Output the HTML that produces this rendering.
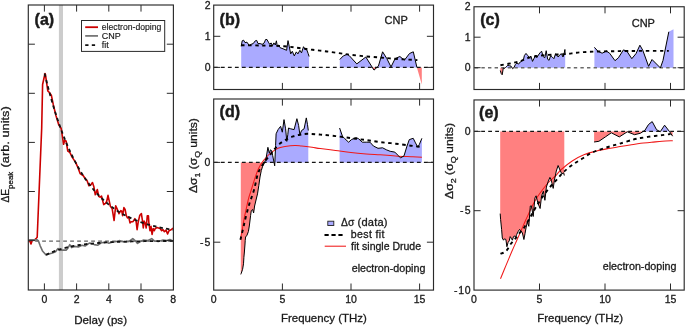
<!DOCTYPE html>
<html><head><meta charset="utf-8"><style>
html,body{margin:0;padding:0;background:#fff;overflow:hidden;}
svg{display:block;will-change:transform;font-family:"Liberation Sans",sans-serif;}
text{stroke:#1a1a1a;stroke-width:0.3px;stroke-linejoin:round;}
</style></head><body>
<svg width="685" height="327" viewBox="0 0 685 327">
<rect width="685" height="327" fill="#fff"/>
<rect x="58.9" y="5.0" width="4.1" height="285.0" fill="#cccccc"/>
<line x1="28.3" y1="241.1" x2="173.4" y2="241.1" stroke="#626262" stroke-width="1.4" stroke-dasharray="3.8 3.2" stroke-dashoffset="0.15"/>
<polyline points="28.5,240.9 29.5,240.3 31.0,244.0 32.3,240.3 34.7,239.9 36.3,238.2 37.2,237.2 41.7,128.0 42.6,84.5 45.0,73.5 45.4,74.4 47.8,90.9 49.6,92.8 51.4,95.5 53.3,104.7 56.0,115.7 58.8,124.9 61.2,128.5 63.6,144.3 64.6,140.6 66.1,141.0 67.8,151.0 69.7,152.2 72.1,157.1 75.8,162.6 78.2,168.2 80.1,173.6 83.1,175.5 85.6,179.2 86.9,180.3 88.9,185.6 90.7,184.9 92.5,182.6 93.8,186.4 95.3,194.8 97.3,189.5 98.7,196.3 100.0,197.2 101.5,196.0 102.7,200.9 103.7,204.6 105.5,203.3 106.7,201.5 108.0,195.4 109.2,200.9 110.4,206.4 112.2,208.9 114.1,220.5 115.7,205.8 117.1,208.9 119.0,213.7 120.8,210.7 121.8,211.3 122.6,215.6 123.9,207.6 125.1,209.5 126.3,215.6 127.5,218.0 128.7,216.8 130.0,222.9 131.2,221.7 133.0,221.7 134.9,218.6 136.1,221.5 137.1,229.6 138.2,222.1 139.8,215.2 141.4,213.6 142.5,221.0 143.3,228.0 144.1,221.0 145.2,223.2 146.2,228.0 147.3,215.7 148.4,215.7 148.9,223.2 150.0,230.7 151.0,226.4 152.1,234.4 153.2,228.5 154.3,230.7 155.3,228.5 156.9,227.5 158.5,228.0 160.1,228.5 161.7,230.7 163.0,229.6 164.4,231.7 166.0,230.1 167.6,233.9 169.0,230.7 170.5,230.1 171.9,229.1 173.0,228.0" fill="none" stroke="#cc0000" stroke-width="1.6" stroke-linejoin="round"/>
<polyline points="28.5,240.3 30.4,239.7 32.9,239.9 37.2,239.9 38.4,240.9 40.2,245.8 42.7,251.3 46.1,255.0 48.8,254.1 52.5,252.9 55.5,251.7 58.0,248.5 59.8,250.1 62.9,250.1 66.1,250.1 67.9,248.2 69.8,244.6 71.6,247.6 74.7,246.4 78.3,247.0 82.0,245.2 85.1,246.0 89.3,243.1 94.2,244.6 97.9,245.2 101.6,242.7 106.5,242.1 108.9,243.3 112.6,242.1 116.2,241.5 119.9,240.6 121.4,241.5 125.2,242.0 129.0,241.5 132.8,238.6 135.6,241.0 137.5,243.4 140.4,241.5 143.2,240.1 148.0,240.5 151.7,238.6 154.6,241.0 158.4,241.5 163.1,240.1 166.9,240.5 169.8,239.6 173.0,241.0" fill="none" stroke="#6e6e6e" stroke-width="1.6" stroke-linejoin="round"/>
<path d="M46.00,254.80 C46.67,254.49 48.67,253.52 50.00,252.94 C51.33,252.36 52.67,251.82 54.00,251.32 C55.33,250.82 56.67,250.36 58.00,249.92 C59.33,249.48 60.67,249.08 62.00,248.71 C63.33,248.33 64.67,247.98 66.00,247.65 C67.33,247.33 68.67,247.03 70.00,246.74 C71.33,246.46 72.67,246.20 74.00,245.95 C75.33,245.70 76.67,245.48 78.00,245.26 C79.33,245.05 80.67,244.86 82.00,244.67 C83.33,244.49 84.67,244.32 86.00,244.16 C87.33,243.99 88.67,243.85 90.00,243.71 C91.33,243.57 92.67,243.44 94.00,243.32 C95.33,243.20 96.67,243.09 98.00,242.99 C99.33,242.88 100.67,242.79 102.00,242.69 C103.33,242.60 104.67,242.52 106.00,242.44 C107.33,242.36 108.67,242.29 110.00,242.22 C111.33,242.16 112.67,242.09 114.00,242.03 C115.33,241.98 116.67,241.92 118.00,241.87 C119.33,241.82 120.67,241.77 122.00,241.73 C123.33,241.68 124.67,241.64 126.00,241.60 C127.33,241.57 128.67,241.53 130.00,241.50 C131.33,241.46 132.67,241.43 134.00,241.40 C135.33,241.38 136.67,241.35 138.00,241.32 C139.33,241.30 140.67,241.28 142.00,241.25 C143.33,241.23 144.67,241.21 146.00,241.19 C147.33,241.17 148.67,241.16 150.00,241.14 C151.33,241.12 152.67,241.11 154.00,241.10 C155.33,241.08 156.67,241.07 158.00,241.06 C159.33,241.04 160.67,241.03 162.00,241.02 C163.33,241.01 164.67,241.00 166.00,240.99 C167.33,240.98 168.83,240.97 170.00,240.97 C171.17,240.96 172.50,240.95 173.00,240.95" fill="none" stroke="#111" stroke-width="1.8" stroke-dasharray="3.4 3.2"/>
<path d="M44.60,73.50 C45.10,75.50 46.60,81.66 47.60,85.52 C48.60,89.38 49.60,93.08 50.60,96.66 C51.60,100.23 52.60,103.66 53.60,106.97 C54.60,110.28 55.60,113.45 56.60,116.51 C57.60,119.58 58.60,122.51 59.60,125.35 C60.60,128.19 61.60,130.91 62.60,133.54 C63.60,136.16 64.60,138.68 65.60,141.12 C66.60,143.55 67.60,145.88 68.60,148.13 C69.60,150.39 70.60,152.55 71.60,154.63 C72.60,156.72 73.60,158.72 74.60,160.65 C75.60,162.58 76.60,164.43 77.60,166.22 C78.60,168.01 79.60,169.72 80.60,171.38 C81.60,173.04 82.60,174.62 83.60,176.16 C84.60,177.69 85.60,179.16 86.60,180.58 C87.60,182.00 88.60,183.36 89.60,184.68 C90.60,185.99 91.60,187.25 92.60,188.47 C93.60,189.69 94.60,190.85 95.60,191.98 C96.60,193.11 97.60,194.19 98.60,195.23 C99.60,196.28 100.60,197.28 101.60,198.24 C102.60,199.21 103.60,200.14 104.60,201.03 C105.60,201.93 106.60,202.78 107.60,203.61 C108.60,204.44 109.60,205.24 110.60,206.00 C111.60,206.77 112.60,207.51 113.60,208.22 C114.60,208.93 115.60,209.61 116.60,210.27 C117.60,210.92 118.60,211.55 119.60,212.16 C120.60,212.77 121.60,213.36 122.60,213.92 C123.60,214.49 124.60,215.03 125.60,215.55 C126.60,216.07 127.60,216.57 128.60,217.06 C129.60,217.54 130.60,218.00 131.60,218.45 C132.60,218.90 133.60,219.33 134.60,219.74 C135.60,220.16 136.60,220.56 137.60,220.94 C138.60,221.32 139.60,221.69 140.60,222.05 C141.60,222.40 142.60,222.74 143.60,223.07 C144.60,223.40 145.60,223.72 146.60,224.02 C147.60,224.33 148.60,224.62 149.60,224.90 C150.60,225.18 151.60,225.45 152.60,225.72 C153.60,225.98 154.60,226.23 155.60,226.47 C156.60,226.71 157.60,226.94 158.60,227.17 C159.60,227.39 160.60,227.61 161.60,227.81 C162.60,228.02 163.60,228.22 164.60,228.41 C165.60,228.61 166.60,228.79 167.60,228.97 C168.60,229.15 169.65,229.32 170.60,229.48 C171.55,229.64 172.85,229.84 173.30,229.91" fill="none" stroke="#111" stroke-width="1.8" stroke-dasharray="3.4 3.2"/>
<rect x="28.3" y="5.0" width="145.10" height="285.00" fill="none" stroke="#2a2a2a" stroke-width="1.15"/>
<line x1="44.4" y1="290.0" x2="44.4" y2="283.4" stroke="#2a2a2a" stroke-width="1"/>
<line x1="44.4" y1="5.0" x2="44.4" y2="11.6" stroke="#2a2a2a" stroke-width="1"/>
<line x1="76.6" y1="290.0" x2="76.6" y2="283.4" stroke="#2a2a2a" stroke-width="1"/>
<line x1="76.6" y1="5.0" x2="76.6" y2="11.6" stroke="#2a2a2a" stroke-width="1"/>
<line x1="108.8" y1="290.0" x2="108.8" y2="283.4" stroke="#2a2a2a" stroke-width="1"/>
<line x1="108.8" y1="5.0" x2="108.8" y2="11.6" stroke="#2a2a2a" stroke-width="1"/>
<line x1="141.0" y1="290.0" x2="141.0" y2="283.4" stroke="#2a2a2a" stroke-width="1"/>
<line x1="141.0" y1="5.0" x2="141.0" y2="11.6" stroke="#2a2a2a" stroke-width="1"/>
<line x1="28.3" y1="44.2" x2="34.9" y2="44.2" stroke="#2a2a2a" stroke-width="1"/>
<line x1="173.4" y1="44.2" x2="166.8" y2="44.2" stroke="#2a2a2a" stroke-width="1"/>
<line x1="28.3" y1="93.3" x2="34.9" y2="93.3" stroke="#2a2a2a" stroke-width="1"/>
<line x1="173.4" y1="93.3" x2="166.8" y2="93.3" stroke="#2a2a2a" stroke-width="1"/>
<line x1="28.3" y1="142.4" x2="34.9" y2="142.4" stroke="#2a2a2a" stroke-width="1"/>
<line x1="173.4" y1="142.4" x2="166.8" y2="142.4" stroke="#2a2a2a" stroke-width="1"/>
<line x1="28.3" y1="191.5" x2="34.9" y2="191.5" stroke="#2a2a2a" stroke-width="1"/>
<line x1="173.4" y1="191.5" x2="166.8" y2="191.5" stroke="#2a2a2a" stroke-width="1"/>
<line x1="28.3" y1="240.6" x2="34.9" y2="240.6" stroke="#2a2a2a" stroke-width="1"/>
<line x1="173.4" y1="240.6" x2="166.8" y2="240.6" stroke="#2a2a2a" stroke-width="1"/>
<text x="44.4" y="303" font-size="10.5" text-anchor="middle" font-weight="normal" fill="#1a1a1a" >0</text>
<text x="76.6" y="303" font-size="10.5" text-anchor="middle" font-weight="normal" fill="#1a1a1a" >2</text>
<text x="108.8" y="303" font-size="10.5" text-anchor="middle" font-weight="normal" fill="#1a1a1a" >4</text>
<text x="141.0" y="303" font-size="10.5" text-anchor="middle" font-weight="normal" fill="#1a1a1a" >6</text>
<text x="173.2" y="303" font-size="10.5" text-anchor="middle" font-weight="normal" fill="#1a1a1a" >8</text>
<text x="100.6" y="323.8" font-size="11.6" text-anchor="middle" font-weight="normal" fill="#1a1a1a" >Delay (ps)</text>
<text x="34.6" y="24.5" font-size="16" text-anchor="start" font-weight="bold" fill="#1a1a1a" style="stroke-width:0.45px">(a)</text>
<rect x="81.5" y="20.5" width="83.2" height="30.9" fill="#fff" stroke="#2a2a2a" stroke-width="1"/>
<line x1="85.2" y1="27.2" x2="98" y2="27.2" stroke="#cc0000" stroke-width="1.8"/>
<line x1="85.2" y1="35.9" x2="98" y2="35.9" stroke="#777" stroke-width="1.8"/>
<line x1="85.2" y1="45.1" x2="98" y2="45.1" stroke="#111" stroke-width="1.8" stroke-dasharray="3.3 3.3"/>
<text x="101.8" y="30.2" font-size="8.9" text-anchor="start" font-weight="normal" fill="#1a1a1a" textLength="59.6" lengthAdjust="spacingAndGlyphs" style="stroke-width:0.15px">electron-doping</text>
<text x="101.8" y="39.2" font-size="9" text-anchor="start" font-weight="normal" fill="#1a1a1a" style="stroke-width:0.15px">CNP</text>
<text x="101.8" y="48.2" font-size="9" text-anchor="start" font-weight="normal" fill="#1a1a1a" style="stroke-width:0.15px">fit</text>
<text transform="translate(9.2,202.6) rotate(-90)" font-size="11" fill="#1a1a1a" textLength="13.6" lengthAdjust="spacingAndGlyphs">ΔE</text>
<text transform="translate(12.6,188.9) rotate(-90)" font-size="7.6" fill="#1a1a1a" textLength="17.2" lengthAdjust="spacingAndGlyphs">peak</text>
<text transform="translate(9.2,167.4) rotate(-90)" font-size="11.4" fill="#1a1a1a" textLength="61.2" lengthAdjust="spacingAndGlyphs">(arb. units)</text>
<polygon points="241.2,67.4 241.2,46.3 242.2,40.8 243.6,40.2 245.0,42.6 247.0,42.2 249.1,45.4 251.2,44.3 253.2,43.6 255.3,40.8 256.7,40.4 258.0,43.6 260.1,43.6 262.2,44.3 264.2,42.9 265.6,39.5 267.0,39.5 268.4,42.2 269.7,44.3 271.1,42.9 272.5,45.7 273.9,42.9 275.3,45.0 276.4,40.8 277.3,46.3 278.7,45.0 280.1,47.7 283.1,48.8 286.6,50.3 288.0,40.6 289.2,46.2 290.7,53.9 292.3,51.3 294.3,55.9 296.3,51.9 297.9,53.9 299.9,50.3 301.5,52.9 303.5,46.7 305.0,49.3 306.8,49.8 308.1,53.4 309.1,56.5 309.1,67.4" fill="#aaaaff"/>
<polygon points="339.8,67.4 339.8,59.5 343.3,55.9 347.3,54.3 349.3,55.7 356.8,63.9 365.8,57.0 372.3,67.4 374.0,67.4 377.0,67.4 378.4,66.1 382.6,51.8 386.8,58.5 391.0,66.9 395.2,58.5 399.9,56.5 404.4,60.2 409.5,53.5 413.3,51.8 416.9,67.4 421.8,67.4 421.8,67.4" fill="#aaaaff"/>
<polygon points="339.8,67.4 339.8,67.4 343.3,67.4 347.3,67.4 349.3,67.4 356.8,67.4 365.8,67.4 372.3,67.4 374.0,70.1 377.0,67.4 378.4,67.4 382.6,67.4 386.8,67.4 391.0,67.4 395.2,67.4 399.9,67.4 404.4,67.4 409.5,67.4 413.3,67.4 416.9,67.4 421.8,84.5 421.8,67.4" fill="#ff8080"/>
<line x1="213.7" y1="67.4" x2="433.5" y2="67.4" stroke="#151515" stroke-width="1.2" stroke-dasharray="3.8 3.2" stroke-dashoffset="-0.2"/>
<polyline points="241.2,46.3 242.2,40.8 243.6,40.2 245.0,42.6 247.0,42.2 249.1,45.4 251.2,44.3 253.2,43.6 255.3,40.8 256.7,40.4 258.0,43.6 260.1,43.6 262.2,44.3 264.2,42.9 265.6,39.5 267.0,39.5 268.4,42.2 269.7,44.3 271.1,42.9 272.5,45.7 273.9,42.9 275.3,45.0 276.4,40.8 277.3,46.3 278.7,45.0 280.1,47.7 283.1,48.8 286.6,50.3 288.0,40.6 289.2,46.2 290.7,53.9 292.3,51.3 294.3,55.9 296.3,51.9 297.9,53.9 299.9,50.3 301.5,52.9 303.5,46.7 305.0,49.3 306.8,49.8 308.1,53.4 309.1,56.5" fill="none" stroke="#000" stroke-width="1"/>
<polyline points="339.8,59.5 343.3,55.9 347.3,54.3 349.3,55.7 356.8,63.9 365.8,57.0 374.0,70.1 378.4,66.1 382.6,51.8 386.8,58.5 391.0,66.9 395.2,58.5 399.9,56.5 404.4,60.2 409.5,53.5 413.3,51.8 416.9,67.4" fill="none" stroke="#000" stroke-width="1"/>
<path d="M241.20,45.30 C244.67,45.33 254.87,45.33 262.00,45.50 C269.13,45.67 277.85,45.88 284.00,46.30 C290.15,46.72 294.12,47.42 298.90,48.00 C303.68,48.58 308.02,49.22 312.70,49.80 C317.38,50.38 322.32,50.90 327.00,51.50 C331.68,52.10 336.75,52.83 340.80,53.40 C344.85,53.97 347.27,54.42 351.30,54.90 C355.33,55.38 360.38,55.88 365.00,56.30 C369.62,56.72 374.83,57.05 379.00,57.40 C383.17,57.75 385.67,58.07 390.00,58.40 C394.33,58.73 400.43,59.12 405.00,59.40 C409.57,59.68 415.33,59.98 417.40,60.10" fill="none" stroke="#000" stroke-width="1.9" stroke-dasharray="3.4 3.6"/>
<rect x="213.7" y="5.1" width="219.80" height="84.40" fill="none" stroke="#2a2a2a" stroke-width="1.15"/>
<line x1="282.4" y1="89.5" x2="282.4" y2="82.9" stroke="#2a2a2a" stroke-width="1"/>
<line x1="282.4" y1="5.1" x2="282.4" y2="11.7" stroke="#2a2a2a" stroke-width="1"/>
<line x1="351.0" y1="89.5" x2="351.0" y2="82.9" stroke="#2a2a2a" stroke-width="1"/>
<line x1="351.0" y1="5.1" x2="351.0" y2="11.7" stroke="#2a2a2a" stroke-width="1"/>
<line x1="419.6" y1="89.5" x2="419.6" y2="82.9" stroke="#2a2a2a" stroke-width="1"/>
<line x1="419.6" y1="5.1" x2="419.6" y2="11.7" stroke="#2a2a2a" stroke-width="1"/>
<line x1="213.7" y1="36.3" x2="220.29999999999998" y2="36.3" stroke="#2a2a2a" stroke-width="1"/>
<line x1="433.5" y1="36.3" x2="426.9" y2="36.3" stroke="#2a2a2a" stroke-width="1"/>
<line x1="213.7" y1="67.4" x2="220.29999999999998" y2="67.4" stroke="#2a2a2a" stroke-width="1"/>
<line x1="433.5" y1="67.4" x2="426.9" y2="67.4" stroke="#2a2a2a" stroke-width="1"/>
<text x="210.5" y="8.8" font-size="10.5" text-anchor="end" font-weight="normal" fill="#1a1a1a" >2</text>
<text x="210.5" y="40.0" font-size="10.5" text-anchor="end" font-weight="normal" fill="#1a1a1a" >1</text>
<text x="210.5" y="70.9" font-size="10.5" text-anchor="end" font-weight="normal" fill="#1a1a1a" >0</text>
<text x="219.6" y="24.6" font-size="16" text-anchor="start" font-weight="bold" fill="#1a1a1a" style="stroke-width:0.45px">(b)</text>
<text x="384.5" y="23.9" font-size="11" text-anchor="start" font-weight="normal" fill="#1a1a1a" >CNP</text>
<polygon points="240.8,162.4 240.8,162.4 241.2,162.4 242.6,162.4 243.5,162.4 243.9,162.4 244.4,162.4 244.7,162.4 245.0,162.4 245.2,162.4 245.6,162.4 247.0,162.4 248.4,162.4 249.3,162.4 249.8,162.4 250.6,162.4 251.3,162.4 252.6,162.4 253.6,162.4 254.6,162.4 256.5,162.4 257.5,162.4 258.8,162.4 260.0,162.4 261.3,162.4 262.5,162.4 264.4,162.4 264.6,162.4 266.1,158.3 267.9,147.3 269.3,153.2 270.5,149.8 271.7,150.7 272.7,155.7 274.0,162.4 274.7,162.4 274.9,162.4 275.6,145.6 276.1,133.8 278.1,129.6 280.6,126.3 282.3,132.2 284.0,119.6 285.6,128.8 286.8,141.4 287.8,134.7 288.5,128.0 290.7,128.8 294.1,129.6 296.9,118.7 298.6,125.4 299.9,134.7 301.6,130.5 304.1,128.8 306.3,117.9 307.5,124.6 308.3,130.5 308.3,162.4" fill="#aaaaff"/>
<polygon points="240.8,162.4 240.8,274.4 241.2,273.4 242.6,269.3 243.5,263.8 243.9,257.3 244.4,252.0 244.7,248.0 245.0,244.0 245.2,240.7 245.6,237.0 247.0,235.2 248.4,231.5 249.3,226.0 249.8,222.0 250.6,215.4 251.3,210.6 252.6,209.5 253.6,213.0 254.6,206.0 256.5,198.0 257.5,193.9 258.8,185.6 260.0,177.0 261.3,170.5 262.5,166.7 264.4,163.0 264.6,162.4 266.1,162.4 267.9,162.4 269.3,162.4 270.5,162.4 271.7,162.4 272.7,162.4 274.0,162.4 274.7,165.8 274.9,162.4 275.6,162.4 276.1,162.4 278.1,162.4 280.6,162.4 282.3,162.4 284.0,162.4 285.6,162.4 286.8,162.4 287.8,162.4 288.5,162.4 290.7,162.4 294.1,162.4 296.9,162.4 298.6,162.4 299.9,162.4 301.6,162.4 304.1,162.4 306.3,162.4 307.5,162.4 308.3,162.4 308.3,162.4" fill="#ff8080"/>
<polygon points="339.6,162.4 339.6,128.0 342.5,136.4 344.8,138.7 348.6,142.2 351.6,139.5 356.2,137.6 358.5,138.7 362.3,142.2 366.2,142.2 370.0,142.2 373.4,146.0 378.0,148.3 382.6,147.8 386.4,149.8 390.2,151.3 394.8,152.1 397.9,155.2 400.5,157.9 404.0,155.9 407.0,146.0 409.3,139.6 413.2,138.3 415.5,142.9 417.8,147.2 419.3,144.5 421.9,138.3 421.9,162.4" fill="#aaaaff"/>
<line x1="213.7" y1="162.4" x2="433.5" y2="162.4" stroke="#151515" stroke-width="1.2" stroke-dasharray="3.8 3.2" stroke-dashoffset="-0.2"/>
<path d="M240.70,239.60 C240.75,239.02 240.78,237.53 241.00,236.10 C241.22,234.67 241.68,232.68 242.00,231.00 C242.32,229.32 242.62,227.67 242.90,226.00 C243.18,224.33 243.42,222.62 243.70,221.00 C243.98,219.38 244.15,218.45 244.60,216.30 C245.05,214.15 245.72,211.15 246.40,208.10 C247.08,205.05 248.00,200.68 248.70,198.00 C249.40,195.32 249.90,194.22 250.60,192.00 C251.30,189.78 252.13,187.15 252.90,184.70 C253.67,182.25 254.37,179.75 255.20,177.30 C256.03,174.85 257.18,171.77 257.90,170.00 C258.62,168.23 258.73,168.07 259.50,166.70 C260.27,165.33 261.38,163.33 262.50,161.80 C263.62,160.27 264.87,158.93 266.20,157.50 C267.53,156.07 268.53,154.73 270.50,153.20 C272.47,151.67 275.58,149.40 278.00,148.30 C280.42,147.20 282.18,147.07 285.00,146.60 C287.82,146.13 292.13,145.60 294.90,145.50 C297.67,145.40 298.75,145.70 301.60,146.00 C304.45,146.30 308.88,146.87 312.00,147.30 C315.12,147.73 316.37,148.07 320.30,148.60 C324.23,149.13 330.50,149.85 335.60,150.50 C340.70,151.15 345.80,151.93 350.90,152.50 C356.00,153.07 361.30,153.52 366.20,153.90 C371.10,154.28 375.40,154.47 380.30,154.80 C385.20,155.13 390.50,155.58 395.60,155.90 C400.70,156.22 406.52,156.48 410.90,156.70 C415.28,156.92 420.07,157.12 421.90,157.20" fill="none" stroke="#f01818" stroke-width="1.05"/>
<polyline points="240.8,274.4 241.2,273.4 242.6,269.3 243.5,263.8 243.9,257.3 244.4,252.0 244.7,248.0 245.0,244.0 245.2,240.7 245.6,237.0 247.0,235.2 248.4,231.5 249.3,226.0 249.8,222.0 250.6,215.4 251.3,210.6 252.6,209.5 253.6,213.0 254.6,206.0 256.5,198.0 257.5,193.9 258.8,185.6 260.0,177.0 261.3,170.5 262.5,166.7 264.4,163.0 266.1,158.3 267.9,147.3 269.3,153.2 270.5,149.8 271.7,150.7 272.7,155.7 274.7,165.8 275.6,145.6 276.1,133.8 278.1,129.6 280.6,126.3 282.3,132.2 284.0,119.6 285.6,128.8 286.8,141.4 287.8,134.7 288.5,128.0 290.7,128.8 294.1,129.6 296.9,118.7 298.6,125.4 299.9,134.7 301.6,130.5 304.1,128.8 306.3,117.9 307.5,124.6 308.3,130.5" fill="none" stroke="#000" stroke-width="1"/>
<polyline points="339.6,128.0 342.5,136.4 344.8,138.7 348.6,142.2 351.6,139.5 356.2,137.6 358.5,138.7 362.3,142.2 366.2,142.2 370.0,142.2 373.4,146.0 378.0,148.3 382.6,147.8 386.4,149.8 390.2,151.3 394.8,152.1 397.9,155.2 400.5,157.9 404.0,155.9 407.0,146.0 409.3,139.6 413.2,138.3 415.5,142.9 417.8,147.2 419.3,144.5 421.9,138.3" fill="none" stroke="#000" stroke-width="1"/>
<path d="M240.40,239.80 C240.93,237.62 242.85,229.90 243.60,226.70 C244.35,223.50 243.98,224.27 244.90,220.60 C245.82,216.93 247.58,209.80 249.10,204.70 C250.62,199.60 252.55,195.13 254.00,190.00 C255.45,184.87 256.55,177.80 257.80,173.90 C259.05,170.00 260.27,168.73 261.50,166.60 C262.73,164.47 263.70,163.12 265.20,161.10 C266.70,159.08 268.92,156.52 270.50,154.50 C272.08,152.48 273.02,150.90 274.70,149.00 C276.38,147.10 278.50,144.78 280.60,143.10 C282.70,141.42 285.20,140.02 287.30,138.90 C289.40,137.78 291.10,137.10 293.20,136.40 C295.30,135.70 297.52,135.13 299.90,134.70 C302.28,134.27 304.10,133.82 307.50,133.80 C310.90,133.78 315.62,134.22 320.30,134.60 C324.98,134.98 330.50,135.52 335.60,136.10 C340.70,136.68 345.80,137.43 350.90,138.10 C356.00,138.77 361.30,139.43 366.20,140.10 C371.10,140.77 375.40,141.50 380.30,142.10 C385.20,142.70 390.50,143.10 395.60,143.70 C400.70,144.30 406.83,145.18 410.90,145.70 C414.97,146.22 418.48,146.62 420.00,146.80" fill="none" stroke="#000" stroke-width="1.9" stroke-dasharray="3.4 3.6"/>
<rect x="213.7" y="99.0" width="219.80" height="191.10" fill="none" stroke="#2a2a2a" stroke-width="1.15"/>
<line x1="282.4" y1="290.1" x2="282.4" y2="283.5" stroke="#2a2a2a" stroke-width="1"/>
<line x1="282.4" y1="99.0" x2="282.4" y2="105.6" stroke="#2a2a2a" stroke-width="1"/>
<line x1="351.0" y1="290.1" x2="351.0" y2="283.5" stroke="#2a2a2a" stroke-width="1"/>
<line x1="351.0" y1="99.0" x2="351.0" y2="105.6" stroke="#2a2a2a" stroke-width="1"/>
<line x1="419.6" y1="290.1" x2="419.6" y2="283.5" stroke="#2a2a2a" stroke-width="1"/>
<line x1="419.6" y1="99.0" x2="419.6" y2="105.6" stroke="#2a2a2a" stroke-width="1"/>
<line x1="213.7" y1="162.4" x2="220.29999999999998" y2="162.4" stroke="#2a2a2a" stroke-width="1"/>
<line x1="433.5" y1="162.4" x2="426.9" y2="162.4" stroke="#2a2a2a" stroke-width="1"/>
<line x1="213.7" y1="242.2" x2="220.29999999999998" y2="242.2" stroke="#2a2a2a" stroke-width="1"/>
<line x1="433.5" y1="242.2" x2="426.9" y2="242.2" stroke="#2a2a2a" stroke-width="1"/>
<text x="210.3" y="166.1" font-size="10.5" text-anchor="end" font-weight="normal" fill="#1a1a1a" >0</text>
<text x="210.3" y="245.89999999999998" font-size="10.5" text-anchor="end" font-weight="normal" fill="#1a1a1a" textLength="10.4" lengthAdjust="spacing">-5</text>
<text x="213.7" y="303" font-size="10.5" text-anchor="middle" font-weight="normal" fill="#1a1a1a" >0</text>
<text x="282.4" y="303" font-size="10.5" text-anchor="middle" font-weight="normal" fill="#1a1a1a" >5</text>
<text x="351.0" y="303" font-size="10.5" text-anchor="middle" font-weight="normal" fill="#1a1a1a" >10</text>
<text x="419.6" y="303" font-size="10.5" text-anchor="middle" font-weight="normal" fill="#1a1a1a" >15</text>
<text x="323.9" y="321.7" font-size="11.45" text-anchor="middle" font-weight="normal" fill="#1a1a1a" >Frequency (THz)</text>
<text x="219.6" y="116.8" font-size="16" text-anchor="start" font-weight="bold" fill="#1a1a1a" style="stroke-width:0.45px">(d)</text>
<rect x="327.8" y="221.2" width="6" height="4.3" fill="#aaaaff" stroke="#222" stroke-width="0.9"/>
<text x="341" y="226.3" font-size="10.3" text-anchor="start" font-weight="normal" fill="#1a1a1a" >Δσ<tspan font-size="11.1" letter-spacing="0.2"> (data)</tspan></text>
<line x1="324.5" y1="235" x2="342.6" y2="235" stroke="#000" stroke-width="1.9" stroke-dasharray="4.2 2.75"/>
<text x="350.8" y="237.9" font-size="10.6" text-anchor="start" font-weight="normal" fill="#1a1a1a" textLength="33.6" lengthAdjust="spacing">best fit</text>
<line x1="324.7" y1="246.2" x2="346" y2="246.2" stroke="#f01818" stroke-width="1.05"/>
<text x="351" y="249.7" font-size="10.5" text-anchor="start" font-weight="normal" fill="#1a1a1a" >fit single Drude</text>
<text x="351.7" y="271.6" font-size="10.7" text-anchor="start" font-weight="normal" fill="#1a1a1a" >electron-doping</text>
<text transform="translate(197.2,155.6) rotate(-90) scale(1.10,1)" font-size="11" text-anchor="middle" fill="#1a1a1a">Δσ<tspan font-size="8" dy="2.5">1</tspan><tspan dy="-2.5"> (σ</tspan><tspan font-size="8" dy="2.5">Q</tspan><tspan dy="-2.5"> units)</tspan></text>
<polygon points="500.3,67.7 500.3,67.7 501.2,67.7 502.2,67.7 503.3,67.7 504.6,67.7 505.3,67.7 505.7,67.3 506.8,66.2 507.8,65.2 509.5,65.7 511.1,66.2 512.1,67.7 512.7,67.7 513.7,67.7 514.1,67.3 515.3,64.6 516.9,63.0 518.6,64.1 520.2,62.0 521.8,60.9 523.4,59.8 524.4,55.5 526.0,53.4 527.7,55.5 529.3,57.7 530.9,56.1 532.5,61.4 534.1,58.2 535.7,55.0 536.8,57.7 538.4,55.0 540.0,52.8 541.6,51.2 543.2,56.6 544.8,57.7 546.2,50.7 547.7,59.3 549.1,60.3 550.7,55.5 552.3,57.1 553.9,58.7 555.5,53.9 556.6,54.8 558.2,57.0 559.8,54.8 561.4,53.7 563.0,57.0 564.1,53.7 564.9,49.5 565.2,54.8 565.2,67.7" fill="#aaaaff"/>
<polygon points="500.3,67.7 500.3,70.5 501.2,73.5 502.2,74.8 503.3,68.1 504.6,68.4 505.3,67.7 505.7,67.7 506.8,67.7 507.8,67.7 509.5,67.7 511.1,67.7 512.1,67.7 512.7,68.7 513.7,67.7 514.1,67.7 515.3,67.7 516.9,67.7 518.6,67.7 520.2,67.7 521.8,67.7 523.4,67.7 524.4,67.7 526.0,67.7 527.7,67.7 529.3,67.7 530.9,67.7 532.5,67.7 534.1,67.7 535.7,67.7 536.8,67.7 538.4,67.7 540.0,67.7 541.6,67.7 543.2,67.7 544.8,67.7 546.2,67.7 547.7,67.7 549.1,67.7 550.7,67.7 552.3,67.7 553.9,67.7 555.5,67.7 556.6,67.7 558.2,67.7 559.8,67.7 561.4,67.7 563.0,67.7 564.1,67.7 564.9,67.7 565.2,67.7 565.2,67.7" fill="#ff8080"/>
<polygon points="594.4,67.7 594.4,47.3 597.8,51.1 602.1,53.2 606.4,51.1 609.6,53.2 615.0,60.7 618.4,57.8 623.4,49.9 626.8,51.1 631.8,58.7 636.0,53.6 639.9,45.2 642.8,50.3 648.6,66.3 652.0,59.5 660.2,67.7 660.4,67.7 660.5,67.7 663.0,60.4 668.8,31.8 673.5,29.3 673.5,67.7" fill="#aaaaff"/>
<polygon points="594.4,67.7 594.4,67.7 597.8,67.7 602.1,67.7 606.4,67.7 609.6,67.7 615.0,67.7 618.4,67.7 623.4,67.7 626.8,67.7 631.8,67.7 636.0,67.7 639.9,67.7 642.8,67.7 648.6,67.7 652.0,67.7 660.2,67.7 660.4,67.9 660.5,67.7 663.0,67.7 668.8,67.7 673.5,67.7 673.5,67.7" fill="#ff8080"/>
<line x1="474.0" y1="67.7" x2="684.2" y2="67.7" stroke="#6a6a6a" stroke-width="1.5" stroke-dasharray="3.4 3.2" stroke-dashoffset="5.8"/>
<polyline points="500.3,70.5 501.2,73.5 502.2,74.8 503.3,68.1 504.6,68.4 505.7,67.3 506.8,66.2 507.8,65.2 509.5,65.7 511.1,66.2 512.7,68.7 514.1,67.3 515.3,64.6 516.9,63.0 518.6,64.1 520.2,62.0 521.8,60.9 523.4,59.8 524.4,55.5 526.0,53.4 527.7,55.5 529.3,57.7 530.9,56.1 532.5,61.4 534.1,58.2 535.7,55.0 536.8,57.7 538.4,55.0 540.0,52.8 541.6,51.2 543.2,56.6 544.8,57.7 546.2,50.7 547.7,59.3 549.1,60.3 550.7,55.5 552.3,57.1 553.9,58.7 555.5,53.9 556.6,54.8 558.2,57.0 559.8,54.8 561.4,53.7 563.0,57.0 564.1,53.7 564.9,49.5 565.2,54.8" fill="none" stroke="#000" stroke-width="1"/>
<polyline points="594.4,47.3 597.8,51.1 602.1,53.2 606.4,51.1 609.6,53.2 615.0,60.7 618.4,57.8 623.4,49.9 626.8,51.1 631.8,58.7 636.0,53.6 639.9,45.2 642.8,50.3 648.6,66.3 652.0,59.5 660.4,67.9 663.0,60.4 668.8,31.8" fill="none" stroke="#000" stroke-width="1"/>
<path d="M500.40,65.30 C501.73,65.05 505.92,64.28 508.40,63.80 C510.88,63.32 513.07,62.93 515.30,62.40 C517.53,61.87 519.47,61.40 521.80,60.60 C524.13,59.80 526.27,58.43 529.30,57.60 C532.33,56.77 536.05,56.10 540.00,55.60 C543.95,55.10 548.72,54.85 553.00,54.60 C557.28,54.35 561.80,54.42 565.70,54.10 C569.60,53.78 572.83,53.07 576.40,52.70 C579.97,52.33 583.53,52.10 587.10,51.90 C590.67,51.70 594.23,51.60 597.80,51.50 C601.37,51.40 604.93,51.37 608.50,51.30 C612.07,51.23 613.95,51.17 619.20,51.10 C624.45,51.03 631.73,50.93 640.00,50.90 C648.27,50.87 664.00,50.90 668.80,50.90" fill="none" stroke="#000" stroke-width="1.9" stroke-dasharray="3.4 3.6"/>
<rect x="474.0" y="6.75" width="210.20" height="82.75" fill="none" stroke="#2a2a2a" stroke-width="1.15"/>
<line x1="539.5" y1="89.5" x2="539.5" y2="82.9" stroke="#2a2a2a" stroke-width="1"/>
<line x1="539.5" y1="6.75" x2="539.5" y2="13.35" stroke="#2a2a2a" stroke-width="1"/>
<line x1="605.0" y1="89.5" x2="605.0" y2="82.9" stroke="#2a2a2a" stroke-width="1"/>
<line x1="605.0" y1="6.75" x2="605.0" y2="13.35" stroke="#2a2a2a" stroke-width="1"/>
<line x1="670.5" y1="89.5" x2="670.5" y2="82.9" stroke="#2a2a2a" stroke-width="1"/>
<line x1="670.5" y1="6.75" x2="670.5" y2="13.35" stroke="#2a2a2a" stroke-width="1"/>
<line x1="474.0" y1="37.2" x2="480.6" y2="37.2" stroke="#2a2a2a" stroke-width="1"/>
<line x1="684.2" y1="37.2" x2="677.6" y2="37.2" stroke="#2a2a2a" stroke-width="1"/>
<line x1="474.0" y1="67.7" x2="480.6" y2="67.7" stroke="#2a2a2a" stroke-width="1"/>
<line x1="684.2" y1="67.7" x2="677.6" y2="67.7" stroke="#2a2a2a" stroke-width="1"/>
<text x="470.6" y="10.4" font-size="10.5" text-anchor="end" font-weight="normal" fill="#1a1a1a" >2</text>
<text x="470.6" y="40.900000000000006" font-size="10.5" text-anchor="end" font-weight="normal" fill="#1a1a1a" >1</text>
<text x="470.6" y="71.4" font-size="10.5" text-anchor="end" font-weight="normal" fill="#1a1a1a" >0</text>
<text x="480.2" y="25.4" font-size="16" text-anchor="start" font-weight="bold" fill="#1a1a1a" style="stroke-width:0.45px">(c)</text>
<text x="631.7" y="26.5" font-size="11" text-anchor="start" font-weight="normal" fill="#1a1a1a" >CNP</text>
<polygon points="500.2,131.4 500.2,131.4 500.6,131.4 501.6,131.4 502.3,131.4 503.5,131.4 504.5,131.4 505.9,131.4 506.9,131.4 508.1,131.4 509.2,131.4 510.2,131.4 511.6,131.4 512.4,131.4 513.5,131.4 514.5,131.4 515.5,131.4 516.7,131.4 518.1,131.4 519.6,131.4 521.0,131.4 522.4,131.4 523.9,131.4 525.0,131.4 526.0,131.4 527.3,131.4 528.8,131.4 530.3,131.4 531.5,131.4 533.2,131.4 534.9,131.4 536.1,131.4 537.9,131.4 540.1,131.4 541.6,131.4 543.4,131.4 544.9,131.4 546.4,131.4 548.0,131.4 549.9,131.4 551.3,131.4 553.2,131.4 554.4,131.4 556.3,131.4 558.1,131.4 560.0,131.4 561.8,131.4 563.6,131.4 564.3,131.4 564.3,131.4" fill="#aaaaff"/>
<polygon points="500.2,131.4 500.2,213.6 500.6,219.4 501.6,229.4 502.3,238.0 503.5,240.2 504.5,238.8 505.9,239.5 506.9,246.7 508.1,242.4 509.2,240.9 510.2,236.6 511.6,238.8 512.4,240.2 513.5,236.6 514.5,235.9 515.5,237.3 516.7,234.5 518.1,231.6 519.6,229.4 521.0,230.9 522.4,233.0 523.9,239.5 525.0,233.7 526.0,228.0 527.3,222.0 528.8,226.3 530.3,206.0 531.5,205.9 533.2,216.5 534.9,198.0 536.1,195.8 537.9,203.1 540.1,208.5 541.6,195.8 543.4,191.2 544.9,200.3 546.4,187.0 548.0,182.0 549.9,177.4 551.3,180.2 553.2,188.4 554.4,180.2 556.3,171.0 558.1,165.5 560.0,170.1 561.8,173.8 563.6,172.8 564.3,175.5 564.3,131.4" fill="#ff8080"/>
<polygon points="594.1,131.4 594.1,131.4 598.9,131.4 605.4,131.4 611.3,131.4 619.3,131.4 627.3,131.4 634.6,131.4 640.5,131.4 643.2,131.4 644.9,130.3 648.5,124.5 652.2,121.6 656.5,129.6 659.5,131.4 660.2,131.4 660.5,131.4 664.6,125.2 669.4,131.4 669.7,131.4 672.6,131.4 672.6,131.4" fill="#aaaaff"/>
<polygon points="594.1,131.4 594.1,142.0 598.9,141.3 605.4,136.9 611.3,132.8 619.3,136.9 627.3,131.8 634.6,134.7 640.5,133.2 643.2,131.4 644.9,131.4 648.5,131.4 652.2,131.4 656.5,131.4 659.5,131.4 660.2,131.8 660.5,131.4 664.6,131.4 669.4,131.4 669.7,131.8 672.6,136.2 672.6,131.4" fill="#ff8080"/>
<line x1="474.0" y1="131.4" x2="684.2" y2="131.4" stroke="#151515" stroke-width="1.2" stroke-dasharray="3.8 3.2" stroke-dashoffset="-0.2"/>
<path d="M500.50,278.70 C501.42,276.48 504.15,269.85 506.00,265.40 C507.85,260.95 509.82,256.15 511.60,252.00 C513.38,247.85 515.13,244.02 516.70,240.50 C518.27,236.98 519.57,234.15 521.00,230.90 C522.43,227.65 523.97,223.98 525.30,221.00 C526.63,218.02 527.80,215.58 529.00,213.00 C530.20,210.42 531.17,208.08 532.50,205.50 C533.83,202.92 535.20,200.30 537.00,197.50 C538.80,194.70 541.23,191.37 543.30,188.70 C545.37,186.03 547.35,183.65 549.40,181.50 C551.45,179.35 553.62,177.80 555.60,175.80 C557.58,173.80 558.53,171.97 561.30,169.50 C564.07,167.03 568.35,163.48 572.20,161.00 C576.05,158.52 580.32,156.28 584.40,154.60 C588.48,152.92 592.62,151.93 596.70,150.90 C600.78,149.87 605.02,149.12 608.90,148.40 C612.78,147.68 616.48,147.17 620.00,146.60 C623.52,146.03 626.55,145.55 630.00,145.00 C633.45,144.45 637.13,143.75 640.70,143.30 C644.27,142.85 647.83,142.65 651.40,142.30 C654.97,141.95 658.53,141.47 662.10,141.20 C665.67,140.93 671.02,140.78 672.80,140.70" fill="none" stroke="#f01818" stroke-width="1.05"/>
<polyline points="500.2,213.6 500.6,219.4 501.6,229.4 502.3,238.0 503.5,240.2 504.5,238.8 505.9,239.5 506.9,246.7 508.1,242.4 509.2,240.9 510.2,236.6 511.6,238.8 512.4,240.2 513.5,236.6 514.5,235.9 515.5,237.3 516.7,234.5 518.1,231.6 519.6,229.4 521.0,230.9 522.4,233.0 523.9,239.5 525.0,233.7 526.0,228.0 527.3,222.0 528.8,226.3 530.3,206.0 531.5,205.9 533.2,216.5 534.9,198.0 536.1,195.8 537.9,203.1 540.1,208.5 541.6,195.8 543.4,191.2 544.9,200.3 546.4,187.0 548.0,182.0 549.9,177.4 551.3,180.2 553.2,188.4 554.4,180.2 556.3,171.0 558.1,165.5 560.0,170.1 561.8,173.8 563.6,172.8 564.3,175.5" fill="none" stroke="#000" stroke-width="1"/>
<polyline points="594.1,142.0 598.9,141.3 605.4,136.9 611.3,132.8 619.3,136.9 627.3,131.8 634.6,134.7 640.5,133.2 644.9,130.3 648.5,124.5 652.2,121.6 656.5,129.6 660.2,131.8 664.6,125.2 669.7,131.8 672.6,136.2" fill="none" stroke="#000" stroke-width="1"/>
<path d="M500.50,253.90 C501.47,253.38 504.57,252.48 506.30,250.80 C508.03,249.12 509.42,245.80 510.90,243.80 C512.38,241.80 513.75,240.60 515.20,238.80 C516.65,237.00 518.15,234.80 519.60,233.00 C521.05,231.20 522.47,230.03 523.90,228.00 C525.33,225.97 526.93,222.97 528.20,220.80 C529.47,218.63 530.20,217.30 531.50,215.00 C532.80,212.70 534.23,209.92 536.00,207.00 C537.77,204.08 539.87,200.70 542.10,197.50 C544.33,194.30 546.95,190.77 549.40,187.80 C551.85,184.83 554.42,182.33 556.80,179.70 C559.18,177.07 561.13,174.45 563.70,172.00 C566.27,169.55 569.15,167.20 572.20,165.00 C575.25,162.80 578.73,160.85 582.00,158.80 C585.27,156.75 588.53,154.32 591.80,152.70 C595.07,151.08 598.35,150.22 601.60,149.10 C604.85,147.98 608.23,146.92 611.30,146.00 C614.37,145.08 616.35,144.67 620.00,143.60 C623.65,142.53 629.75,140.53 633.20,139.60 C636.65,138.67 637.67,138.53 640.70,138.00 C643.73,137.47 647.83,136.88 651.40,136.40 C654.97,135.92 658.90,135.50 662.10,135.10 C665.30,134.70 669.18,134.18 670.60,134.00" fill="none" stroke="#000" stroke-width="1.9" stroke-dasharray="3.4 3.6"/>
<rect x="474.0" y="99.95" width="210.20" height="190.15" fill="none" stroke="#2a2a2a" stroke-width="1.15"/>
<line x1="539.5" y1="290.1" x2="539.5" y2="283.5" stroke="#2a2a2a" stroke-width="1"/>
<line x1="539.5" y1="99.95" x2="539.5" y2="106.55" stroke="#2a2a2a" stroke-width="1"/>
<line x1="605.0" y1="290.1" x2="605.0" y2="283.5" stroke="#2a2a2a" stroke-width="1"/>
<line x1="605.0" y1="99.95" x2="605.0" y2="106.55" stroke="#2a2a2a" stroke-width="1"/>
<line x1="670.5" y1="290.1" x2="670.5" y2="283.5" stroke="#2a2a2a" stroke-width="1"/>
<line x1="670.5" y1="99.95" x2="670.5" y2="106.55" stroke="#2a2a2a" stroke-width="1"/>
<line x1="474.0" y1="131.4" x2="480.6" y2="131.4" stroke="#2a2a2a" stroke-width="1"/>
<line x1="684.2" y1="131.4" x2="677.6" y2="131.4" stroke="#2a2a2a" stroke-width="1"/>
<line x1="474.0" y1="210.7" x2="480.6" y2="210.7" stroke="#2a2a2a" stroke-width="1"/>
<line x1="684.2" y1="210.7" x2="677.6" y2="210.7" stroke="#2a2a2a" stroke-width="1"/>
<text x="470.5" y="135.1" font-size="10.5" text-anchor="end" font-weight="normal" fill="#1a1a1a" >0</text>
<text x="470.5" y="214.39999999999998" font-size="10.5" text-anchor="end" font-weight="normal" fill="#1a1a1a" textLength="10.4" lengthAdjust="spacing">-5</text>
<text x="470.5" y="293.8" font-size="10.5" text-anchor="end" font-weight="normal" fill="#1a1a1a" textLength="16.4" lengthAdjust="spacing">-10</text>
<text x="474.0" y="303" font-size="10.5" text-anchor="middle" font-weight="normal" fill="#1a1a1a" >0</text>
<text x="539.5" y="303" font-size="10.5" text-anchor="middle" font-weight="normal" fill="#1a1a1a" >5</text>
<text x="605.0" y="303" font-size="10.5" text-anchor="middle" font-weight="normal" fill="#1a1a1a" >10</text>
<text x="670.5" y="303" font-size="10.5" text-anchor="middle" font-weight="normal" fill="#1a1a1a" >15</text>
<text x="580.2" y="321.5" font-size="11.45" text-anchor="middle" font-weight="normal" fill="#1a1a1a" >Frequency (THz)</text>
<text x="479.1" y="117.6" font-size="16" text-anchor="start" font-weight="bold" fill="#1a1a1a" style="stroke-width:0.45px">(e)</text>
<text x="602.8" y="270.1" font-size="10.7" text-anchor="start" font-weight="normal" fill="#1a1a1a" >electron-doping</text>
<text transform="translate(453.2,161) rotate(-90) scale(1.115,1)" font-size="11" text-anchor="middle" fill="#1a1a1a">Δσ<tspan font-size="8" dy="2.5">2</tspan><tspan dy="-2.5"> (σ</tspan><tspan font-size="8" dy="2.5">Q</tspan><tspan dy="-2.5"> units)</tspan></text>
</svg>
</body></html>
